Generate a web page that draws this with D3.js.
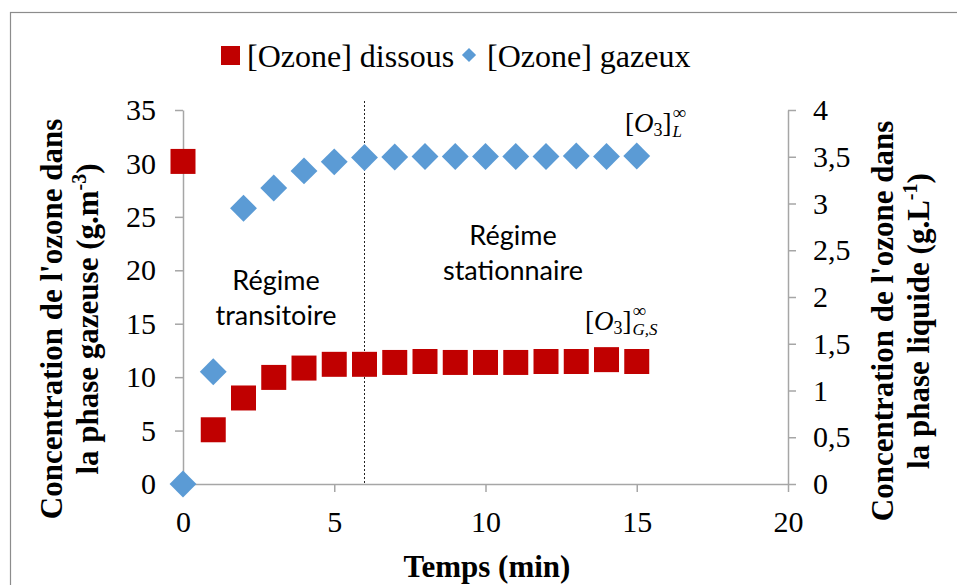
<!DOCTYPE html>
<html>
<head>
<meta charset="utf-8">
<script src="https://cdn.jsdelivr.net/npm/d3@7"></script>
<style>
  body { margin: 0; background: #fff; }
  svg { display: block; }
</style>
</head>
<body>
<svg id="chart" width="957" height="585"></svg>
<script>
// data
const temps = [0, 1, 2, 3, 4, 5, 6, 7, 8, 9, 10, 11, 12, 13, 14, 15];
// [Ozone] gazeux, left axis (g.m-3)
const gazeux = [0, 10.5, 25.8, 27.7, 29.3, 30.15, 30.55, 30.6, 30.65, 30.65, 30.65, 30.65, 30.65, 30.7, 30.65, 30.7];
// [Ozone] dissous, right axis (g.L-1)
const dissous = [3.45, 0.58, 0.92, 1.14, 1.24, 1.28, 1.28, 1.30, 1.31, 1.30, 1.30, 1.30, 1.31, 1.31, 1.33, 1.31];
const xTicks = [0, 5, 10, 15, 20];
const yLeftTicks = [0, 5, 10, 15, 20, 25, 30, 35];
const yRightTicks = [0, 0.5, 1, 1.5, 2, 2.5, 3, 3.5, 4];
const legendNames = ["[Ozone] dissous", "[Ozone] gazeux"];

const serif = "'Liberation Serif', 'Times New Roman', serif";
const sans = "Lato, 'Liberation Sans', sans-serif";
const axisGrey = "#a6a6a6";
const red = "#c00000";
const blue = "#5b9bd5";

const svg = d3.select("#chart");

// outer chart border
svg.append("rect")
    .attr("x", 10.5).attr("y", 12.5)
    .attr("width", 980).attr("height", 620)
    .attr("fill", "#fff").attr("stroke", "#8c8c8c").attr("stroke-width", 1.2);

const x = d3.scaleLinear().domain([0, 20]).range([183, 788]);
const yL = d3.scaleLinear().domain([0, 35]).range([484, 110]);
const yR = d3.scaleLinear().domain([0, 4]).range([484, 110]);

function styleAxis(g) {
    g.attr("font-family", null).attr("font-size", null);
    g.select(".domain").attr("stroke", axisGrey).attr("stroke-width", 1.5);
    g.selectAll(".tick line").attr("stroke", axisGrey).attr("stroke-width", 1.5);
    g.selectAll(".tick text").attr("fill", "#000")
        .style("font-family", serif).style("font-size", "30px");
}

// x axis
svg.append("g")
    .attr("transform", `translate(0,${yL(0)})`)
    .call(d3.axisBottom(x).tickValues(xTicks).tickSize(8).tickSizeOuter(0).tickPadding(19))
    .call(styleAxis)
    .call(g => g.selectAll(".tick").filter(d => d === 0).select("line").remove());

// left axis
svg.append("g")
    .attr("transform", `translate(${x(0)},0)`)
    .call(d3.axisLeft(yL).tickValues(yLeftTicks).tickSize(8).tickSizeOuter(0).tickPadding(19))
    .call(styleAxis);

// right axis
svg.append("g")
    .attr("transform", `translate(${x(20)},0)`)
    .call(d3.axisRight(yR).tickValues(yRightTicks).tickSize(8).tickSizeOuter(0).tickPadding(17)
        .tickFormat(d => String(d).replace(".", ",")))
    .call(styleAxis);

// dotted separator at t = 6 min
svg.append("line")
    .attr("x1", x(6)).attr("x2", x(6))
    .attr("y1", 101).attr("y2", yL(0))
    .attr("stroke", "#222").attr("stroke-width", 1)
    .attr("stroke-dasharray", "2,2");

const squareSym = d3.symbol().type(d3.symbolSquare).size(25 * 25);
const diamondSym = d3.symbol().type(d3.symbolSquare).size(19 * 19);

// dissous: red squares
svg.append("g").selectAll("path")
    .data(temps)
    .join("path")
    .attr("transform", (t, i) => `translate(${x(t)},${yR(dissous[i])})`)
    .attr("d", squareSym)
    .attr("fill", red);

// gazeux: blue diamonds
svg.append("g").selectAll("path")
    .data(temps)
    .join("path")
    .attr("transform", (t, i) => `translate(${x(t)},${yL(gazeux[i])}) rotate(45)`)
    .attr("d", diamondSym)
    .attr("fill", blue);

// legend
const legend = svg.append("g").style("font-family", serif).style("font-size", "32px");
legend.append("rect").attr("x", 221).attr("y", 46).attr("width", 19).attr("height", 19).attr("fill", red);
legend.append("text").attr("x", 247).attr("y", 67).text(legendNames[0]);
legend.append("path")
    .attr("transform", "translate(469,55) rotate(45)")
    .attr("d", d3.symbol().type(d3.symbolSquare).size(10 * 10))
    .attr("fill", blue);
legend.append("text").attr("x", 487).attr("y", 67).text(legendNames[1]);

// regime labels
const notes = svg.append("g").style("font-family", sans).style("font-size", "27px")
    .attr("text-anchor", "middle").attr("fill", "#000");
notes.append("text").attr("x", 276).attr("y", 290).text("Régime");
notes.append("text").attr("x", 276).attr("y", 325).text("transitoire");
notes.append("text").attr("x", 513).attr("y", 245).text("Régime");
notes.append("text").attr("x", 513).attr("y", 280).text("stationnaire");

// math labels [O3] with stacked sup/sub, kept in one text element
function mathLabel(x0, y0, sub) {
    const t = svg.append("text").attr("x", x0).attr("y", y0)
        .style("font-family", serif).style("font-size", "27px").attr("fill", "#000");
    t.append("tspan").text("[");
    t.append("tspan").style("font-style", "italic").text("O");
    t.append("tspan").attr("dy", 4).style("font-size", "18px").text("3");
    t.append("tspan").attr("dy", -4).text("]");
    const w = t.node().getComputedTextLength();
    t.append("tspan").attr("x", x0 + w + 1).attr("y", y0 - 13).style("font-size", "19px").text("∞");
    t.append("tspan").attr("x", x0 + w + 1).attr("y", y0 + 5).style("font-size", "17px")
        .style("font-style", "italic").text(sub);
}
mathLabel(625, 132, "L");
mathLabel(585, 330, "G,S");

// axis titles
const titles = svg.append("g").style("font-family", serif).style("font-size", "31px")
    .style("font-weight", "bold").attr("text-anchor", "middle").attr("fill", "#000");

titles.append("text").attr("x", 487).attr("y", 577).text("Temps (min)");

function vTitle(cx, cy, l1, l2, sup) {
    const g = titles.append("g").attr("transform", `translate(${cx},${cy}) rotate(-90)`);
    g.append("text").attr("x", 0).attr("y", 0).text(l1);
    const t2 = g.append("text").attr("x", 0).attr("y", 36);
    t2.append("tspan").text(l2);
    t2.append("tspan").attr("dy", -12).style("font-size", "20px").text(sup);
    t2.append("tspan").attr("dy", 12).text(")");
}
vTitle(62, 319, "Concentration de l'ozone dans", "la phase gazeuse (g.m", "-3");
vTitle(893, 321, "Concentration de l'ozone dans", "la phase liquide (g.L", "-1");
</script>
</body>
</html>
